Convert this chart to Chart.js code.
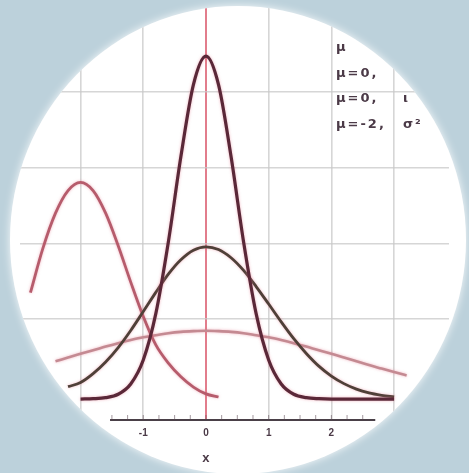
<!DOCTYPE html>
<html>
<head>
<meta charset="utf-8">
<script src="https://cdn.jsdelivr.net/npm/chart.js@4.4.1/dist/chart.umd.min.js"></script>
<style>
  html, body { margin: 0; padding: 0; background: #bcd1db; }
  #plot { display: block; filter: blur(0.4px); }
</style>
</head>
<body>
<canvas id="plot" width="469" height="473"></canvas>
<script>
// x positions shared by every curve
const xs = [-2.8, -2.6, -2.4, -2.2, -2.0, -1.8, -1.6, -1.4, -1.2, -1.0, -0.8, -0.6, -0.4, -0.2, 0,
            0.2, 0.4, 0.6, 0.8, 1.0, 1.2, 1.4, 1.6, 1.8, 2.0, 2.2, 2.4, 2.6, 2.8, 3.0, 3.2];

// curve heights (null = curve not drawn there)
const narrowCurve = [null, null, null, null, 0, 0.001, 0.004, 0.014, 0.044, 0.114, 0.249, 0.458, 0.707, 0.917, 1.0,
                     0.917, 0.707, 0.458, 0.249, 0.114, 0.044, 0.014, 0.004, 0.001, 0, 0, 0, 0, 0, 0, null];
const mediumCurve = [null, null, null, 0.036, 0.048, 0.074, 0.108, 0.150, 0.200, 0.255, 0.311, 0.364, 0.406, 0.434, 0.444,
                     0.436, 0.412, 0.375, 0.328, 0.277, 0.225, 0.176, 0.133, 0.096, 0.067, 0.045, 0.029, 0.018, 0.011, 0.006, null];
const wideCurve = [null, null, 0.110, 0.121, 0.132, 0.142, 0.153, 0.163, 0.172, 0.180, 0.186, 0.192, 0.196, 0.198, 0.199,
                   0.198, 0.196, 0.192, 0.186, 0.180, 0.172, 0.163, 0.153, 0.142, 0.132, 0.121, 0.110, 0.099, 0.089, 0.079, 0.069];
const shiftedCurve = [0.31, 0.44, 0.542, 0.608, 0.632, 0.608, 0.542, 0.447, 0.341, 0.241, 0.158, 0.105, 0.065, 0.035, 0.015,
                      0.006, null, null, null, null, null, null, null, null, null, null, null, null, null, null, null];

// axes
const xGridValues = [-2, -1, 0, 1, 2, 3];
const xTickLabels = [-1, 0, 1, 2];
const yGridValues = [0.234, 0.453, 0.673, 0.895];
const axisTitle = 'x';
const legendLines = [['μ', ''], ['μ=0,', ''], ['μ=0,', 'ι'], ['μ=-2,', 'σ²']];

const INK = '#4b3a47';
const FONT = "'Liberation Sans', Arial, sans-serif";

function toPoints(ys) {
    return xs.map((x, i) => ({ x: x, y: ys[i] }));
}

// paper backdrop: blue card with a white disc, everything clipped to the disc
const backdrop = {
    id: 'backdrop',
    beforeDraw(chart) {
        const ctx = chart.ctx;
        ctx.save();
        ctx.fillStyle = '#bcd1db';
        ctx.fillRect(0, 0, chart.width, chart.height);
        ctx.shadowColor = 'rgba(255,255,255,0.9)';
        ctx.shadowBlur = 8;
        ctx.fillStyle = '#ffffff';
        ctx.beginPath();
        ctx.ellipse(238, 240, 228, 234, 0, 0, Math.PI * 2);
        ctx.fill();
        ctx.restore();
        ctx.save();
        ctx.beginPath();
        ctx.ellipse(238, 240, 228, 234, 0, 0, Math.PI * 2);
        ctx.clip();
    },
    beforeDatasetDraw(chart) {
        // soft pink fringe round the printed lines
        const ctx = chart.ctx;
        ctx.save();
        ctx.shadowColor = 'rgba(228,120,140,0.55)';
        ctx.shadowBlur = 3;
    },
    afterDatasetDraw(chart) {
        chart.ctx.restore();
    },
    afterDatasetsDraw(chart) {
        // short axis line with small tick marks
        const ctx = chart.ctx;
        const sx = chart.scales.x;
        const yPix = chart.chartArea.bottom - 1;
        ctx.save();
        ctx.strokeStyle = '#4a4048';
        ctx.lineWidth = 2;
        ctx.beginPath();
        ctx.moveTo(sx.getPixelForValue(-1.53), yPix);
        ctx.lineTo(sx.getPixelForValue(2.7), yPix);
        ctx.stroke();
        ctx.strokeStyle = 'rgba(90,70,80,0.55)';
        ctx.lineWidth = 1;
        for (let v = -1.5; v <= 2.5; v += 0.25) {
            const px = sx.getPixelForValue(v);
            ctx.beginPath();
            ctx.moveTo(px, yPix - 5);
            ctx.lineTo(px, yPix);
            ctx.stroke();
        }
        // axis title under the zero tick
        ctx.fillStyle = INK;
        ctx.font = 'bold 13px ' + FONT;
        ctx.textAlign = 'center';
        ctx.textBaseline = 'middle';
        ctx.fillText(axisTitle, sx.getPixelForValue(0), 458);
        ctx.restore();
    },
    afterDraw(chart) {
        const ctx = chart.ctx;
        ctx.restore();
        // legend text, top right
        ctx.save();
        ctx.fillStyle = INK;
        ctx.font = "bold 13px 'DejaVu Sans', sans-serif";
        ctx.textBaseline = 'middle';
        if ('letterSpacing' in ctx) ctx.letterSpacing = '2px';
        const rowY = [48, 74, 99, 125];
        legendLines.forEach((row, i) => {
            ctx.fillText(row[0], 336, rowY[i]);
            if (row[1]) ctx.fillText(row[1], 403, rowY[i]);
        });
        ctx.restore();
    }
};

new Chart(document.getElementById('plot'), {
    type: 'line',
    data: {
        datasets: [
            { label: 'μ=0, σ small', data: toPoints(narrowCurve), borderColor: '#5a2838', borderWidth: 3.2 },
            { label: 'μ=0, σ=1', data: toPoints(mediumCurve), borderColor: '#4f4038', borderWidth: 2.8 },
            { label: 'μ=-2, σ²', data: toPoints(shiftedCurve), borderColor: '#b65c6c', borderWidth: 2.8 },
            { label: 'μ=0, σ large', data: toPoints(wideCurve), borderColor: '#c48a92', borderWidth: 2.6 }
        ]
    },
    options: {
        responsive: false,
        animation: false,
        devicePixelRatio: 1,
        spanGaps: false,
        layout: { padding: { left: 20, right: 20, top: 5, bottom: 28 } },
        elements: {
            point: { radius: 0, hoverRadius: 0 },
            line: { cubicInterpolationMode: 'monotone', fill: false }
        },
        plugins: {
            legend: { display: false },
            tooltip: { enabled: false }
        },
        scales: {
            x: {
                type: 'linear',
                min: -2.966,
                max: 3.876,
                afterBuildTicks: scale => { scale.ticks = xGridValues.map(v => ({ value: v })); },
                ticks: {
                    autoSkip: false,
                    maxRotation: 0,
                    padding: 6,
                    color: INK,
                    font: { family: FONT, size: 10, weight: 'bold' },
                    callback: v => xTickLabels.includes(v) ? String(v) : ''
                },
                grid: {
                    drawTicks: false,
                    color: c => (c.tick && c.tick.value === 0) ? '#e27d8c' : 'rgba(200,200,200,0.75)',
                    lineWidth: c => (c.tick && c.tick.value === 0) ? 2 : 1.6
                },
                border: { display: false }
            },
            y: {
                min: -0.064,
                max: 1.149,
                afterBuildTicks: scale => { scale.ticks = yGridValues.map(v => ({ value: v })); },
                ticks: { display: false },
                grid: { drawTicks: false, color: 'rgba(200,200,200,0.75)', lineWidth: 1.6 },
                border: { display: false }
            }
        }
    },
    plugins: [backdrop]
});
</script>
</body>
</html>
